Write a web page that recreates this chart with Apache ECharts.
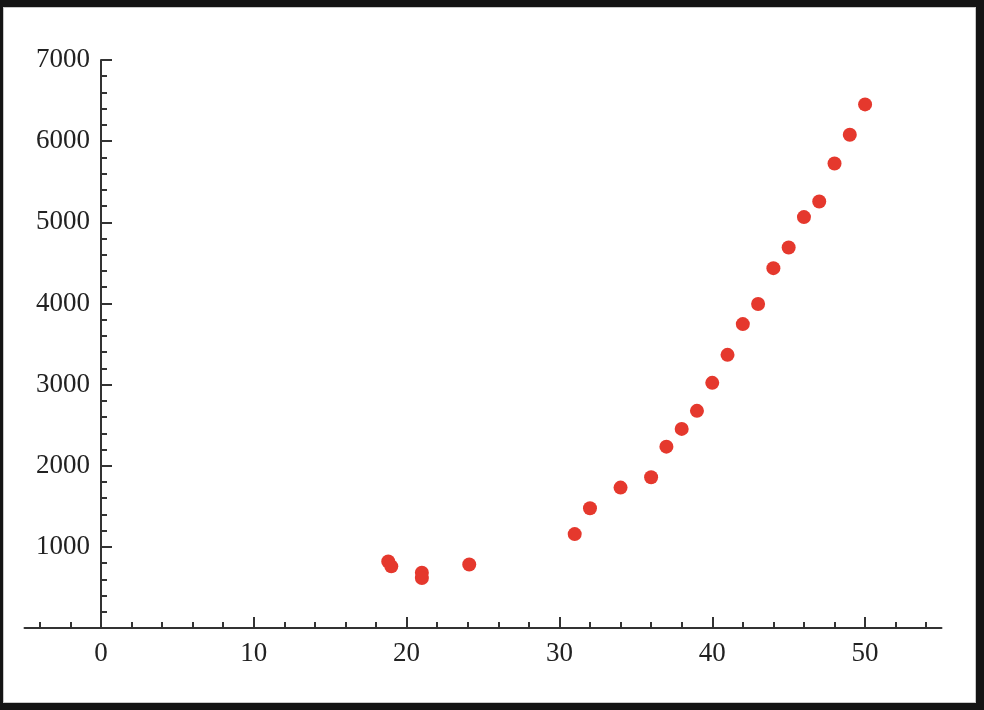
<!DOCTYPE html>
<html>
<head>
<meta charset="utf-8">
<script src="https://cdn.jsdelivr.net/npm/echarts@6/dist/echarts.min.js"></script>
<style>
  html, body { margin: 0; padding: 0; background: #141414; width: 984px; height: 710px; overflow: hidden; }
  #panel { position: absolute; left: 3px; top: 7px; width: 971px; height: 694px; background: #ffffff; border: 1px solid #c8c8c8; }
  #chart { position: absolute; left: 0; top: 0; width: 984px; height: 710px; }
</style>
</head>
<body>
<div id="panel"></div>
<div id="chart"></div>
<script>
// ---- data ----
const xValues = [18.8, 19.0, 21, 21, 24.1, 31, 32, 34, 36, 37, 38, 39, 40, 41, 42, 43, 44, 45, 46, 47, 48, 49, 50];
const yValues = [820, 760, 680, 615, 783, 1157, 1476, 1730, 1858, 2235, 2454, 2676, 3021, 3366, 3745, 3993, 4435, 4689, 5064, 5257, 5725, 6079, 6453];
const xTickLabels = [0, 10, 20, 30, 40, 50];
const yTickLabels = [1000, 2000, 3000, 4000, 5000, 6000, 7000];

const xMin = -5, xMax = 55, yMin = 0, yMax = 7000;

// minor tick positions on x axis (every 2 units, excluding majors)
const xMinorTicks = [];
for (let v = -4; v <= 54; v += 2) { if (v % 10 !== 0) xMinorTicks.push(v); }

const points = xValues.map((x, i) => [x, yValues[i]]);

const axisColor = '#333333';
const labelFont = { fontFamily: '"Liberation Serif", "Times New Roman", serif', fontSize: 27, color: '#222222' };

const gridTop = 60, gridHeight = 568;

const chart = echarts.init(document.getElementById('chart'), null, { renderer: 'canvas' });
chart.setOption({
  backgroundColor: 'transparent',
  animation: false,
  grid: [
    { left: 24.5, top: gridTop, width: 917, height: gridHeight, containLabel: false, outerBoundsMode: 'none' },
    { left: 101, top: gridTop, width: 800, height: gridHeight, containLabel: false, outerBoundsMode: 'none' }
  ],
  xAxis: [
    {
      type: 'value', gridIndex: 0, min: xMin, max: xMax, position: 'bottom',
      axisLine: { show: true, onZero: false, lineStyle: { color: axisColor, width: 2 } },
      axisTick: { show: true, inside: true, length: 11, customValues: xTickLabels, lineStyle: { color: axisColor, width: 2 } },
      axisLabel: Object.assign({ show: true, margin: 12, customValues: xTickLabels }, labelFont),
      splitLine: { show: false }
    },
    {
      type: 'value', gridIndex: 0, min: xMin, max: xMax, position: 'bottom', offset: 0,
      axisLine: { show: false, onZero: false },
      axisTick: { show: true, inside: true, length: 6, customValues: xMinorTicks, lineStyle: { color: axisColor, width: 2 } },
      axisLabel: { show: false },
      splitLine: { show: false }
    },
    {
      type: 'value', gridIndex: 1, min: 0, max: 1, show: false
    }
  ],
  yAxis: [
    {
      type: 'value', gridIndex: 0, min: yMin, max: yMax, interval: 1000, show: false,
      splitLine: { show: false }
    },
    {
      type: 'value', gridIndex: 1, min: yMin, max: yMax, interval: 1000, position: 'left',
      axisLine: { show: true, onZero: false, lineStyle: { color: axisColor, width: 2 } },
      axisTick: { show: true, inside: true, length: 11, lineStyle: { color: axisColor, width: 2 } },
      minorTick: { show: true, splitNumber: 5, length: 6, lineStyle: { color: axisColor, width: 2 } },
      axisLabel: Object.assign({ show: true, margin: 11,
        formatter: v => (yTickLabels.indexOf(v) >= 0 ? String(v) : '') }, labelFont),
      splitLine: { show: false }
    }
  ],
  series: [{
    type: 'scatter',
    xAxisIndex: 0,
    yAxisIndex: 0,
    data: points,
    symbol: 'circle',
    symbolSize: 14,
    itemStyle: { color: '#e5382d', opacity: 1 }
  }]
});
</script>
</body>
</html>
